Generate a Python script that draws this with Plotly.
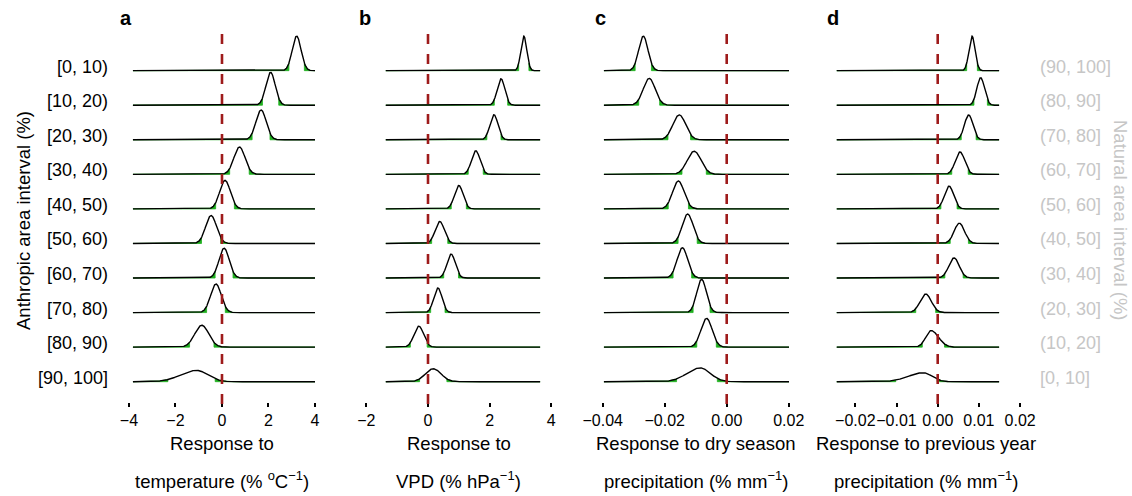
import numpy as np
import plotly.graph_objects as go

W, H = 1132, 496

# ---------------- data ----------------
anthropic_labels = ["[0, 10)", "[10, 20)", "[20, 30)", "[30, 40)", "[40, 50)",
                    "[50, 60)", "[60, 70)", "[70, 80)", "[80, 90)", "[90, 100]"]
natural_labels = ["(90, 100]", "(80, 90]", "(70, 80]", "(60, 70]", "(50, 60]",
                  "(40, 50]", "(30, 40]", "(20, 30]", "(10, 20]", "[0, 10]"]

# panel a: response to temperature
temp_mean = [3.21, 2.09, 1.68, 0.75, 0.13, -0.47, 0.09, -0.26, -0.87, -1.09]
temp_sd_left = [0.19, 0.20, 0.22, 0.24, 0.23, 0.235, 0.22, 0.23, 0.30, 0.68]
temp_sd_right = [0.19, 0.20, 0.22, 0.24, 0.23, 0.235, 0.22, 0.23, 0.30, 0.48]
temp_support = [-3.83, 4.0]
temp_ticks = [-4, -2, 0, 2, 4]
temp_ticktext = ["\u22124", "\u22122", "0", "2", "4"]

# panel b: response to VPD
vpd_mean = [3.11, 2.37, 2.14, 1.55, 1.00, 0.38, 0.75, 0.32, -0.30, 0.17]
vpd_sd_left = [0.095, 0.124, 0.131, 0.139, 0.14, 0.149, 0.137, 0.133, 0.156, 0.253]
vpd_sd_right = [0.095, 0.124, 0.131, 0.139, 0.14, 0.149, 0.137, 0.133, 0.156, 0.253]
vpd_support = [-1.37, 3.64]
vpd_ticks = [-2, 0, 2, 4]
vpd_ticktext = ["\u22122", "0", "2", "4"]

# panel c: response to dry season precipitation
dry_mean = [-0.0269, -0.0250, -0.0153, -0.0105, -0.0156, -0.0126, -0.0143, -0.0081, -0.0065, -0.0086]
dry_sd_left = [0.0015, 0.00193, 0.00208, 0.00224, 0.00186, 0.00176, 0.00171, 0.00156, 0.0018, 0.0042]
dry_sd_right = [0.0015, 0.00193, 0.00208, 0.00224, 0.00186, 0.00176, 0.00171, 0.00156, 0.0018, 0.0033]
dry_support = [-0.0396, 0.0201]
dry_ticks = [-0.04, -0.02, 0.0, 0.02]
dry_ticktext = ["\u22120.04", "\u22120.02", "0.00", "0.02"]

# panel d: response to previous year precipitation
prev_mean = [0.00833, 0.01043, 0.00752, 0.00541, 0.00274, 0.00525, 0.00396, -0.00291, -0.00163, -0.0035]
prev_sd_left = [0.00074, 0.00093, 0.00103, 0.00114, 0.00112, 0.00126, 0.00127, 0.00138, 0.00127, 0.0036]
prev_sd_right = [0.00074, 0.00093, 0.00103, 0.00114, 0.00112, 0.00126, 0.00127, 0.00138, 0.0018, 0.0021]
prev_support = [-0.0245, 0.0149]
prev_ticks = [-0.02, -0.01, 0.0, 0.01, 0.02]
prev_ticktext = ["\u22120.02", "\u22120.01", "0.00", "0.01", "0.02"]

tail_prob = 0.04  # green tails outside the central interval

panel_letters = ["a", "b", "c", "d"]
title_line1 = ["Response to", "Response to", "Response to dry season", "Response to previous year"]
title_line2 = ["temperature (% <sup>o</sup>C<sup>\u22121</sup>)", "VPD (% hPa<sup>\u22121</sup>)",
               "precipitation (% mm<sup>\u22121</sup>)", "precipitation (% mm<sup>\u22121</sup>)"]

# ---------------- layout geometry (pixels) ----------------
FONT = "Liberation Sans, Arial, Helvetica, sans-serif"
GREEN = "#1fb01f"
RED = "#9e1b1b"
BASE0 = 381.7      # pixel of bottom baseline
ROWPX = 34.56      # pixels between rows
AX_BOTTOM = 402.0  # axis position (pixel)
AX_TOP = 20.0

def pxx(px):
    return px / W

def pxy(py):
    return 1 - py / H

panels = [
    dict(mean=temp_mean, sl=temp_sd_left, sr=temp_sd_right, sup=temp_support,
         ticks=temp_ticks, ticktext=temp_ticktext, zero=222.0, ppu=23.25, rng=[-4.1, 4.1],
         letter_px=126, title_px=222),
    dict(mean=vpd_mean, sl=vpd_sd_left, sr=vpd_sd_right, sup=vpd_support,
         ticks=vpd_ticks, ticktext=vpd_ticktext, zero=428.0, ppu=30.8, rng=[-2.1, 4.1],
         letter_px=365, title_px=458.7),
    dict(mean=dry_mean, sl=dry_sd_left, sr=dry_sd_right, sup=dry_support,
         ticks=dry_ticks, ticktext=dry_ticktext, zero=726.7, ppu=3100.0, rng=[-0.041, 0.021],
         letter_px=600, title_px=695.5),
    dict(mean=prev_mean, sl=prev_sd_left, sr=prev_sd_right, sup=prev_support,
         ticks=prev_ticks, ticktext=prev_ticktext, zero=937.7, ppu=4120.0, rng=[-0.025, 0.0215],
         letter_px=833, title_px=926),
]

y_lo = (BASE0 - AX_BOTTOM) / ROWPX
y_hi = (BASE0 - AX_TOP) / ROWPX

fig = go.Figure()
layout = dict(
    width=W, height=H, autosize=False,
    margin=dict(l=0, r=0, t=0, b=0, pad=0, autoexpand=False),
    paper_bgcolor="white", plot_bgcolor="white",
    showlegend=False,
    font=dict(family=FONT, color="black"),
    yaxis=dict(domain=[pxy(AX_BOTTOM), pxy(AX_TOP)], range=[y_lo, y_hi], visible=False,
               fixedrange=True),
)

annotations = []
shapes = []
nrows = len(anthropic_labels)

def split_normal(x, m, sl, sr):
    z = np.where(x < m, (x - m) / sl, (x - m) / sr)
    return 2.0 / (np.sqrt(2 * np.pi) * (sl + sr)) * np.exp(-0.5 * z ** 2)

for p, P in enumerate(panels):
    xname = "x" if p == 0 else f"x{p+1}"
    axkey = "xaxis" if p == 0 else f"xaxis{p+1}"
    r0, r1 = P["rng"]
    d0 = P["zero"] + P["ppu"] * r0
    d1 = P["zero"] + P["ppu"] * r1
    layout[axkey] = dict(
        domain=[pxx(d0), pxx(d1)], range=[r0, r1], anchor="y",
        showgrid=False, zeroline=False, showline=False,
        ticks="outside", ticklen=4, tickwidth=2, tickcolor="black", tickangle=0,
        tickvals=P["ticks"], ticktext=P["ticktext"],
        tickfont=dict(size=16, family=FONT, color="black"), fixedrange=True,
    )

    xs = np.linspace(P["sup"][0], P["sup"][1], 1200)
    dens = [split_normal(xs, P["mean"][i], P["sl"][i], P["sr"][i]) for i in range(nrows)]
    scale = 1.0 / max(d.max() for d in dens)

    for i in range(nrows):
        base = nrows - 1 - i
        d = dens[i]
        y = base + d * scale
        cdf = np.concatenate([[0], np.cumsum((d[1:] + d[:-1]) / 2 * np.diff(xs))])
        cdf = cdf / cdf[-1]
        q_lo = float(np.interp(tail_prob, cdf, xs))
        q_hi = float(np.interp(1 - tail_prob, cdf, xs))
        y_qlo = float(np.interp(q_lo, xs, y))
        y_qhi = float(np.interp(q_hi, xs, y))

        m = xs <= q_lo
        lx = [xs[0]] + list(xs[m]) + [q_lo, q_lo, xs[0]]
        ly = [base] + list(y[m]) + [y_qlo, base, base]
        m2 = xs >= q_hi
        rx = [q_hi, q_hi] + list(xs[m2]) + [xs[-1], q_hi]
        ry = [base, y_qhi] + list(y[m2]) + [base, base]
        for tx, ty in ((lx, ly), (rx, ry)):
            fig.add_trace(go.Scatter(x=tx, y=ty, xaxis=xname, yaxis="y", mode="lines",
                                     line=dict(width=0.8, color=GREEN), fill="toself",
                                     fillcolor=GREEN, hoverinfo="skip"))
        fig.add_trace(go.Scatter(x=xs, y=y, xaxis=xname, yaxis="y", mode="lines",
                                 line=dict(width=1.4, color="black"), hoverinfo="skip"))

    # dashed zero line
    shapes.append(dict(type="line", xref=xname, yref="paper", x0=0, x1=0,
                       y0=pxy(34), y1=pxy(404), layer="above",
                       line=dict(color=RED, width=2.6, dash="10px,10px")))

    # panel letter
    annotations.append(dict(text="<b>%s</b>" % panel_letters[p], xref="paper", yref="paper",
                            x=pxx(P["letter_px"]), y=pxy(18), showarrow=False,
                            xanchor="center", yanchor="middle",
                            font=dict(size=20, family=FONT, color="black")))
    # axis titles (two lines)
    annotations.append(dict(text=title_line1[p], xref="paper", yref="paper",
                            x=pxx(P["title_px"]), y=pxy(443), showarrow=False,
                            xanchor="center", yanchor="middle",
                            font=dict(size=18.5, family=FONT, color="black")))
    annotations.append(dict(text=title_line2[p], xref="paper", yref="paper",
                            x=pxx(P["title_px"]), y=pxy(480), showarrow=False,
                            xanchor="center", yanchor="middle",
                            font=dict(size=18.5, family=FONT, color="black")))

# row labels
for i in range(nrows):
    base_px = BASE0 - ROWPX * (nrows - 1 - i)
    annotations.append(dict(text=anthropic_labels[i], xref="paper", yref="paper",
                            x=pxx(110), y=pxy(base_px - 4), showarrow=False,
                            xanchor="right", yanchor="middle",
                            font=dict(size=18, family=FONT, color="black")))
    annotations.append(dict(text=natural_labels[i], xref="paper", yref="paper",
                            x=pxx(1038), y=pxy(base_px - 4), showarrow=False,
                            xanchor="left", yanchor="middle",
                            font=dict(size=18, family=FONT, color="#c6c6c6")))

annotations.append(dict(text="Anthropic area interval (%)", xref="paper", yref="paper",
                        x=pxx(23), y=pxy(221), showarrow=False, textangle=-90,
                        xanchor="center", yanchor="middle",
                        font=dict(size=18.5, family=FONT, color="black")))
annotations.append(dict(text="Natural area interval (%)", xref="paper", yref="paper",
                        x=pxx(1121), y=pxy(220), showarrow=False, textangle=90,
                        xanchor="center", yanchor="middle",
                        font=dict(size=18.5, family=FONT, color="#c6c6c6")))

layout["annotations"] = annotations
layout["shapes"] = shapes
fig.update_layout(**layout)
fig.write_html(
    "out.html",
    config={"responsive": False, "displayModeBar": False},
    post_script="document.body.style.margin='0';document.body.style.padding='0';"
                "document.documentElement.style.overflow='hidden';",
)
